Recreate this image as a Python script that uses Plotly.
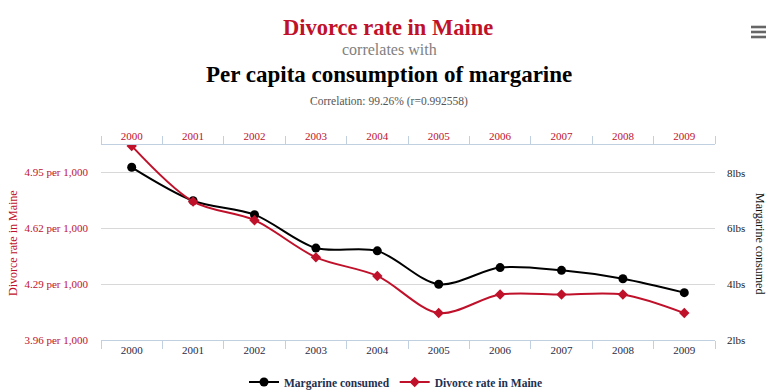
import plotly.graph_objects as go

years = ["2000", "2001", "2002", "2003", "2004", "2005", "2006", "2007", "2008", "2009"]
divorce_rate = [5.0, 4.7, 4.6, 4.4, 4.3, 4.1, 4.2, 4.2, 4.2, 4.1]
margarine_lbs = [8.2, 7.0, 6.5, 5.3, 5.2, 4.0, 4.6, 4.5, 4.2, 3.7]

left_tick_text = ["3.96 per 1,000", "4.29 per 1,000", "4.62 per 1,000", "4.95 per 1,000"]
right_tick_vals = [2, 4, 6, 8]
right_tick_text = ["2lbs", "4lbs", "6lbs", "8lbs"]

RED = "#C0112B"
FONT = "Liberation Serif"
AXIS_BLUE = "#C0D0E0"

W, H = 778, 391
L, R, T, B = 101, 63, 145, 51
PW, PH = W - L - R, H - T - B

def px(x):
    return (x - L) / PW

def py(y):
    return (H - B - y) / PH

left_lo, left_hi = 3.955, 5.005
step = (left_hi - left_lo) * 56 / 195
left_tick_vals = [left_lo + k * step for k in range(4)]

fig = go.Figure()
# margarine on base y axis (drawn on the right), divorce on overlaying y2 (left)
fig.add_trace(go.Scatter(
    x=years, y=margarine_lbs, name="Margarine consumed",
    xaxis="x", yaxis="y", mode="lines+markers",
    line=dict(color="#000000", width=2, shape="spline", smoothing=0.9),
    marker=dict(symbol="circle", size=9, color="#000000"),
))
fig.add_trace(go.Scatter(
    x=years, y=divorce_rate, name="Divorce rate in Maine",
    xaxis="x", yaxis="y2", mode="lines+markers",
    line=dict(color=RED, width=2, shape="spline", smoothing=0.9),
    marker=dict(symbol="diamond", size=8, color=RED),
))
# invisible carrier trace so the top category axis is drawn
fig.add_trace(go.Scatter(
    x=years, y=[None] * len(years), xaxis="x2", yaxis="y",
    mode="markers", showlegend=False, hoverinfo="skip",
))

xcommon = dict(
    type="category", categoryorder="array", categoryarray=years,
    range=[-0.5, 9.5], tickson="boundaries", ticks="outside", ticklen=8,
    tickcolor=AXIS_BLUE, showline=True, linecolor=AXIS_BLUE, linewidth=1,
    showgrid=False, zeroline=False, automargin=False,
)

fig.update_layout(
    width=W, height=H,
    margin=dict(l=L, r=R, t=T, b=B, autoexpand=False),
    paper_bgcolor="white", plot_bgcolor="white",
    font=dict(family=FONT, size=11, color="#333333"),
    xaxis=dict(**xcommon, side="bottom", anchor="y",
               tickfont=dict(family=FONT, size=11, color="#2a2a44")),
    xaxis2=dict(**xcommon, side="top", anchor="y", overlaying="x",
                tickfont=dict(family=FONT, size=11, color=RED)),
    yaxis=dict(range=[2, 9], tickvals=right_tick_vals, ticktext=right_tick_text,
               side="right", anchor="x",
               showgrid=True, gridcolor="#D8D8D8", gridwidth=1,
               zeroline=False, showline=False, ticks="", automargin=False,
               ticklabelstandoff=11,
               tickfont=dict(family=FONT, size=11, color="#222222")),
    yaxis2=dict(range=[left_lo, left_hi], tickvals=left_tick_vals, ticktext=left_tick_text,
                side="left", overlaying="y", anchor="x",
                showgrid=False, zeroline=False, showline=False, ticks="", automargin=False,
                ticklabelstandoff=12,
                tickfont=dict(family=FONT, size=11, color=RED)),
    showlegend=True,
    legend=dict(orientation="h", x=px(396), xanchor="center", y=py(382), yanchor="middle",
                font=dict(family=FONT, size=11.5, color="#22304f", weight="bold"),
                itemwidth=30, bgcolor="rgba(0,0,0,0)"),
    hovermode=False,
)

annotations = [
    dict(text="<b>Divorce rate in Maine</b>", x=px(388), y=py(28),
         font=dict(family=FONT, size=22.5, color=RED)),
    dict(text="correlates with", x=px(389), y=py(49),
         font=dict(family=FONT, size=16, color="#808080")),
    dict(text="<b>Per capita consumption of margarine</b>", x=px(389), y=py(75),
         font=dict(family=FONT, size=23, color="#000000")),
    dict(text="Correlation: 99.26% (r=0.992558)", x=px(389), y=py(102),
         font=dict(family=FONT, size=11.5, color="#555555")),
    dict(text="Divorce rate in Maine", x=px(13), y=py(243), textangle=-90,
         font=dict(family=FONT, size=12, color=RED)),
    dict(text="Margarine consumed", x=px(760), y=py(243), textangle=90,
         font=dict(family=FONT, size=12, color="#111111")),
]
for a in annotations:
    a.update(xref="paper", yref="paper", xanchor="center", yanchor="middle", showarrow=False)
fig.update_layout(annotations=annotations)

# hamburger export-menu icon
shapes = []
for yc in (27, 32, 37):
    shapes.append(dict(type="rect", xref="paper", yref="paper",
                       x0=px(751), x1=px(766), y0=py(yc + 1.3), y1=py(yc - 1.3),
                       fillcolor="#666666", line=dict(width=0)))
fig.update_layout(shapes=shapes)

fig.write_html("out.html", config={"displayModeBar": False},
               post_script="document.body.style.margin='0';document.body.style.overflow='hidden';")
